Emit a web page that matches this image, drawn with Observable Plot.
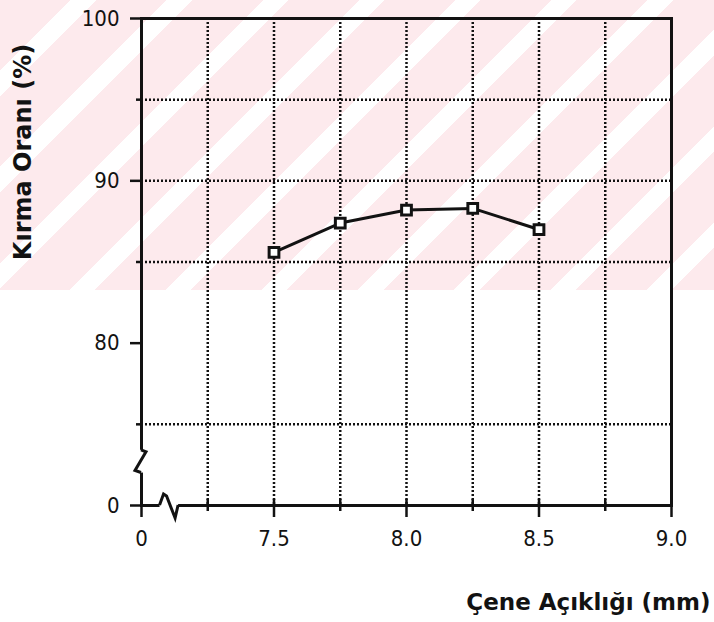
<!DOCTYPE html>
<html><head><meta charset="utf-8">
<script src="https://cdn.jsdelivr.net/npm/d3@7"></script>
<script src="https://cdn.jsdelivr.net/npm/@observablehq/plot@0.6"></script>
<style>
body{margin:0;background:#fff;}
#wrap{position:relative;width:714px;height:622px;overflow:hidden;}
#wm{position:absolute;left:0;top:0;width:714px;height:290px;
  background:repeating-linear-gradient(135deg,#fdeaed 0 50px,#ffffff 50px 68px);}
#chart{position:absolute;left:0;top:0;}
</style></head><body>
<div id="wrap"><div id="wm"></div><div id="chart"></div></div>
<script>
// Data
const jawOpening = [7.5, 7.75, 8.0, 8.25, 8.5];       // Çene Açıklığı (mm)
const crushRatio = [85.6, 87.4, 88.2, 88.3, 87.0];     // Kırma Oranı (%)

// Axis ticks and labels (broken axes: 7.0 and 70 are shown as "0")
const xTicks = [7.0, 7.5, 8.0, 8.5, 9.0];
const xTickLabels = ["0", "7.5", "8.0", "8.5", "9.0"];
const xMinorTicks = [7.25, 7.75, 8.25, 8.75];
const yTicks = [70, 80, 90, 100];
const yTickLabels = ["0", "80", "90", "100"];
const yMinorTicks = [75, 85, 95];
const xGrid = [7.25, 7.5, 7.75, 8.0, 8.25, 8.5, 8.75];
const yGrid = [75, 85, 90, 95];
const xTitle = "Çene Açıklığı (mm)";
const yTitle = "Kırma Oranı (%)";

const data = jawOpening.map((x, i) => ({x, y: crushRatio[i]}));
const fmtX = d => xTickLabels[xTicks.indexOf(d)];
const fmtY = d => yTickLabels[yTicks.indexOf(d)];
const ink = "#121212";
const dotted = {stroke: ink, strokeWidth: 2.5, strokeDasharray: "2,2"};

const chart = Plot.plot({
  width: 714, height: 622,
  marginLeft: 141, marginRight: 43, marginTop: 18, marginBottom: 117,
  style: {background: "transparent", fontFamily: "'DejaVu Sans Condensed','DejaVu Sans',sans-serif", fontSize: "22px", color: ink},
  x: {domain: [7, 9]},
  y: {domain: [70, 100]},
  marks: [
    Plot.ruleY(yGrid, dotted),
    Plot.ruleX(xGrid, dotted),
    Plot.ruleY(yTicks, {x1: 7, x2: 7, insetLeft: -11, stroke: ink, strokeWidth: 2.5}),
    Plot.ruleY(yMinorTicks, {x1: 7, x2: 7, insetLeft: -5, stroke: ink, strokeWidth: 2.5}),
    Plot.ruleX(xTicks, {y1: 70, y2: 70, insetTop: -6, insetBottom: -12, stroke: ink, strokeWidth: 2.5}),
    Plot.ruleX(xMinorTicks, {y1: 70, y2: 70, insetTop: -6, insetBottom: -6, stroke: ink, strokeWidth: 2.5}),
    Plot.frame({stroke: ink, strokeWidth: 3}),
    Plot.axisX({ticks: xTicks, tickFormat: fmtX, tickSize: 0, tickPadding: 25, label: null}),
    Plot.axisY({ticks: yTicks, tickFormat: fmtY, tickSize: 0, tickPadding: 22, label: null}),
    Plot.line(data, {x: "x", y: "y", stroke: ink, strokeWidth: 3}),
    Plot.dot(data, {x: "x", y: "y", symbol: "square", r: 5.5, stroke: ink, strokeWidth: 3, fill: "white"}),
    Plot.text([yTitle], {text: d => d, frameAnchor: "left", rotate: -90, textAnchor: "middle", lineAnchor: "middle",
      dx: -118, dy: -110, fontFamily: "'DejaVu Sans',sans-serif", fontWeight: "bold", fontSize: 24, fill: ink}),
    Plot.text([xTitle], {text: d => d, frameAnchor: "bottom-right", textAnchor: "end", lineAnchor: "middle", dx: 39, dy: 97,
      fontFamily: "'DejaVu Sans',sans-serif", fontWeight: "bold", fontSize: 23, fill: ink})
  ]
});

// Axis break symbols, placed from the plot's own scales
const sx = chart.scale("x"), sy = chart.scale("y");
const svg = d3.select(chart);
const ax = sx.apply(7), ay = sy.apply(70);
const yb1 = sy.apply(73.4), yb2 = sy.apply(72.0);
svg.append("rect").attr("x", ax - 8).attr("y", yb1).attr("width", 16).attr("height", yb2 - yb1).attr("fill", "white");
svg.append("path").attr("fill", "none").attr("stroke", ink).attr("stroke-width", 3)
  .attr("d", `M${ax},${yb1} L${ax + 5},${yb1 + 2} L${ax - 6},${yb2 - 2} L${ax},${yb2}`);
const xb1 = sx.apply(7.07), xb2 = sx.apply(7.14);
svg.append("rect").attr("x", xb1).attr("y", ay - 3).attr("width", xb2 - xb1).attr("height", 6).attr("fill", "white");
svg.append("path").attr("fill", "none").attr("stroke", ink).attr("stroke-width", 3)
  .attr("d", `M${xb1},${ay} L${xb1 + 4},${ay - 11} L${xb1 + 7},${ay - 9} L${xb2 - 3},${ay + 13} L${xb2},${ay}`);

document.getElementById("chart").append(chart);
</script>
</body></html>
